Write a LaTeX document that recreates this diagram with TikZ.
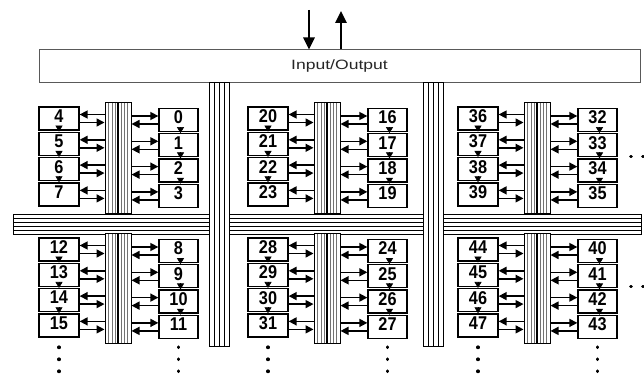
\documentclass[tikz,border=0pt]{standalone}
\usepackage{fontspec}
\setmainfont{Liberation Sans}
\newfontfamily\numfont[FakeStretch=0.88]{Liberation Sans}
\newfontfamily\iofont[FakeStretch=1.3]{Liberation Sans}
\usepackage{tikz}
\usetikzlibrary{arrows.meta,calc}
\newcommand\vstripes[2]{%
  \foreach \f in {#1}
    \draw[#2] ($(path picture bounding box.south west)!\f!(path picture bounding box.south east)$)
      -- ($(path picture bounding box.north west)!\f!(path picture bounding box.north east)$);}
\newcommand\hstripes[2]{%
  \foreach \f in {#1}
    \draw[#2] ($(path picture bounding box.south west)!\f!(path picture bounding box.north west)$)
      -- ($(path picture bounding box.south east)!\f!(path picture bounding box.north east)$);}
\tikzset{
  pe/.style={draw,line width=1.3pt,fill=white,minimum width=40pt,minimum height=23pt,
    inner sep=0pt,text depth=5pt,font={\numfont\bfseries\fontsize{18.5}{18.5}\selectfont}},
  iobox/.style={draw=black!65,line width=1pt,minimum width=601pt,minimum height=33pt,
    inner sep=0pt,text=black!85,font={\iofont\fontsize{13.5}{13.5}\selectfont}},
  gbus/.style={draw,line width=1pt,fill=white,inner sep=0pt,minimum width=20pt,
    path picture={\vstripes{0.25,0.5,0.75}{line width=1pt}}},
  hbus/.style={draw,line width=1pt,fill=white,inner sep=0pt,minimum height=20pt,
    path picture={\hstripes{0.2,0.4,0.6,0.8}{line width=1pt}}},
  lbus/.style={draw,line width=1pt,fill=white,inner sep=0pt,minimum width=26pt,
    minimum height=110pt,
    path picture={\vstripes{0.14,0.28,0.40,0.62,0.76,0.88}{black!55,line width=0.8pt}
      \vstripes{0.5}{line width=1.4pt}}},
  link/.style={-{Triangle[length=8pt,width=8pt]},line width=1.5pt},
  chain/.style={-{Triangle[length=6pt,width=7pt]},line width=0.6pt},
  ioarrow/.style={-{Triangle[length=12pt,width=11pt]},line width=2.6pt},
  more/.style={line width=3.2pt,line cap=round,dash pattern=on 0.6pt off 11.4pt}
}
\begin{document}
\begin{tikzpicture}[x=1pt,y=-1pt]
  \useasboundingbox (0,0) rectangle (644,374);
  \node[iobox] (io) at (339.5,66.5) {Input/Output};
  \coordinate (inp) at (309,10);
  \coordinate (outp) at (341,11);
  \draw[ioarrow] (inp) -- (inp |- io.north);
  \draw[ioarrow] (outp |- io.north) -- (outp);
  \node[hbus,minimum width=628pt] (sys) at (327,224) {};
  \node[gbus,minimum height=263pt] (G1) at (219.5,214.5) {};
  \node[gbus,minimum height=263pt] (G2) at (433,214.5) {};
  \foreach \g/\gx in {0/0,1/209,2/419}{
    \foreach \h in {0,1}{
      \pgfmathtruncatemacro\base{16*\g+8*\h}
      \node[lbus] (L\g\h) at (118+\gx,158+130.5*\h) {};
      \foreach \k in {0,...,3}{
        \pgfmathtruncatemacro\nl{\base+4+\k}
        \pgfmathtruncatemacro\nr{\base+\k}
        \node[pe] (b\nl) at (59+\gx,118.5+25.3*\k+131*\h) {\nl};
        \node[pe,minimum width=39pt] (b\nr) at (178.5+\gx,120+25.3*\k+131*\h) {\nr};
        \draw[link] ([yshift=4pt]b\nl.east -| L\g\h.west) -- ([yshift=4pt]b\nl.east);
        \draw[link] ([yshift=-4pt]b\nl.east) -- ([yshift=-4pt]b\nl.east -| L\g\h.west);
        \draw[link] ([yshift=4pt]b\nr.west -| L\g\h.east) -- ([yshift=4pt]b\nr.west);
        \draw[link] ([yshift=-4pt]b\nr.west) -- ([yshift=-4pt]b\nr.west -| L\g\h.east);
      }
      \foreach \k in {0,1,2}{
        \pgfmathtruncatemacro\nl{\base+4+\k}
        \pgfmathtruncatemacro\ml{\base+5+\k}
        \pgfmathtruncatemacro\nr{\base+\k}
        \pgfmathtruncatemacro\mr{\base+1+\k}
        \draw[chain] ([yshift=5pt]b\nl.south) -- (b\ml.north);
        \draw[chain] ([xshift=2pt,yshift=5pt]b\nr.south) -- ([xshift=2pt]b\mr.north);
      }
    }
  }
  \coordinate (dotrow) at (0,347);
  \foreach \n in {15,11,31,27,47,43}
    \draw[more] (b\n.south |- dotrow) -- ++(0,27);
  \draw[more] ([xshift=13pt,yshift=1pt]b33.south east) -- ++(30,0);
  \draw[more] ([xshift=13pt,yshift=2pt]b41.south east) -- ++(30,0);
\end{tikzpicture}
\end{document}
